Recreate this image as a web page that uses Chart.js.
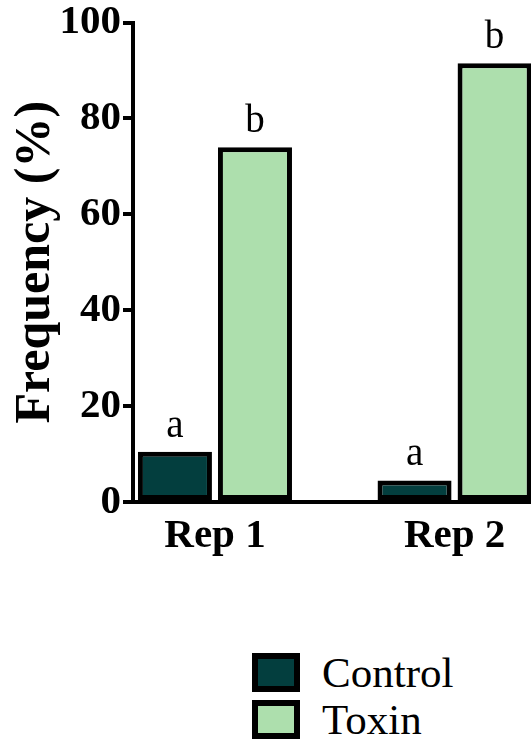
<!DOCTYPE html>
<html>
<head>
<meta charset="utf-8">
<script src="https://cdn.jsdelivr.net/npm/chart.js@4/dist/chart.umd.min.js"></script>
<style>
  html, body { margin: 0; padding: 0; background: #fff; overflow: hidden; }
  #wrap { position: relative; width: 531px; height: 743px; }
  #legend { position: absolute; left: 252px; top: 653px; font-family: "Liberation Serif", "Times New Roman", serif; }
  .lg-row { display: flex; align-items: center; height: 39px; margin-bottom: 8px; }
  .lg-box { width: 48px; height: 39px; box-sizing: border-box; border: 6px solid #000; }
  .lg-text { margin-left: 22px; font-size: 43px; color: #000; }
</style>
</head>
<body>
<div id="wrap">
  <canvas id="chart" width="531" height="570"></canvas>
  <div id="legend"></div>
</div>
<script>
// ---- data ----
const categories = ['Rep 1', 'Rep 2'];
const seriesNames = ['Control', 'Toxin'];
const controlValues = [10.5, 4.5];
const toxinValues = [74, 91.5];
const controlLetters = ['a', 'a'];
const toxinLetters = ['b', 'b'];
const yTicks = [0, 20, 40, 60, 80, 100];

const colors = ['#033e3e', '#addfad'];
const SERIF = '"Liberation Serif", "Times New Roman", serif';

// letters above each bar
const letterPlugin = {
  id: 'letters',
  afterDatasetsDraw(chart) {
    const ctx = chart.ctx;
    const letters = [controlLetters, toxinLetters];
    ctx.save();
    ctx.font = '39px ' + SERIF;
    ctx.fillStyle = '#000';
    ctx.textAlign = 'center';
    ctx.textBaseline = 'alphabetic';
    chart.data.datasets.forEach((ds, d) => {
      chart.getDatasetMeta(d).data.forEach((bar, i) => {
        ctx.fillText(letters[d][i], bar.x, bar.y - 15);
      });
    });
    ctx.restore();
  }
};

const toPoints = vals => vals.map((v, i) => ({ x: i + 1, y: v }));

const chart = new Chart(document.getElementById('chart'), {
  type: 'bar',
  data: {
    datasets: [
      { label: seriesNames[0], data: toPoints(controlValues), backgroundColor: colors[0] },
      { label: seriesNames[1], data: toPoints(toxinValues), backgroundColor: colors[1] },
    ],
  },
  options: {
    responsive: false,
    animation: false,
    devicePixelRatio: 1,
    layout: { padding: { top: 22, left: 0, right: 0, bottom: 0 } },
    datasets: {
      bar: {
        borderColor: '#000',
        borderWidth: 5,
        borderSkipped: false,
        categoryPercentage: 0.668,
        barPercentage: 0.925,
      },
    },
    plugins: {
      legend: { display: false },
      tooltip: { enabled: false },
    },
    scales: {
      x: {
        type: 'linear',
        min: 0.658,
        max: 2.319,
        offset: false,
        grid: { display: false },
        border: { display: true, color: '#000', width: 4 },
        afterBuildTicks: s => { s.ticks = categories.map((c, i) => ({ value: i + 1 })); },
        afterFit: s => { s.height = 68; },
        ticks: {
          color: '#000',
          padding: 2,
          maxRotation: 0,
          font: { family: SERIF, size: 41, weight: 'bold' },
          callback: v => categories[v - 1] || '',
        },
      },
      y: {
        min: 0,
        max: 100,
        afterBuildTicks: s => { s.ticks = yTicks.map(v => ({ value: v })); },
        afterFit: s => { s.width = 133; },
        grid: { drawOnChartArea: false, drawTicks: true, tickLength: 10, color: '#000', lineWidth: 4 },
        border: { display: true, color: '#000', width: 4 },
        ticks: {
          color: '#000',
          padding: 2,
          font: { family: SERIF, size: 41, weight: 'bold', lineHeight: 1 },
        },
        title: {
          display: true,
          text: 'Frequency (%)',
          color: '#000',
          padding: { top: 6, bottom: 0 },
          font: { family: SERIF, size: 50, weight: 'bold' },
        },
      },
    },
  },
  plugins: [letterPlugin],
});

// legend built from the datasets
const legendEl = document.getElementById('legend');
chart.data.datasets.forEach(ds => {
  const row = document.createElement('div');
  row.className = 'lg-row';
  row.innerHTML = `<div class="lg-box" style="background:${ds.backgroundColor}"></div><span class="lg-text">${ds.label}</span>`;
  legendEl.appendChild(row);
});
</script>
</body>
</html>
